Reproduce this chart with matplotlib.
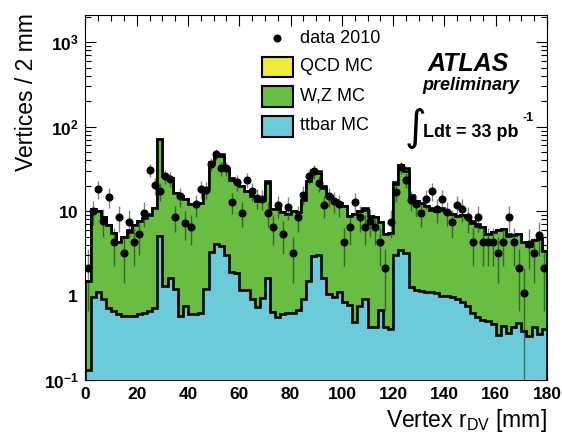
import numpy as np
import matplotlib
matplotlib.use("Agg")
import matplotlib.pyplot as plt
from matplotlib.patches import Rectangle
from matplotlib.ticker import MultipleLocator, LogLocator, FixedLocator, FixedFormatter, NullFormatter

plt.rcParams['font.family'] = ['Liberation Sans', 'DejaVu Sans']
plt.rcParams['mathtext.fontset'] = 'custom'
plt.rcParams['mathtext.rm'] = 'Liberation Sans'
plt.rcParams['mathtext.bf'] = 'Liberation Sans:bold'

# ------------------------------------------
# data: 2 mm bins from 0 to 180 mm
# ------------------------------------------
bin_edges = np.arange(0, 182, 2)

ttbar_mc = [
    0.13, 0.97, 1.1, 0.9, 0.72, 0.65, 0.6, 0.58, 0.58, 0.58,
    0.6, 0.62, 0.66, 0.72, 5.1, 1.3, 1.6, 1.2, 0.58, 0.76,
    0.6, 0.6, 0.62, 1.2, 3.3, 4.1, 3.9, 3.0, 1.9, 1.85,
    1.17, 1.15, 0.9, 0.74, 0.94, 1.6, 0.64, 0.56, 0.6, 0.62,
    0.62, 0.68, 0.9, 1.5, 2.9, 3.0, 1.6, 1.05, 0.97, 1.1,
    0.85, 0.78, 0.48, 0.75, 0.92, 0.42, 0.42, 0.68, 0.42, 0.4,
    3.0, 3.45, 3.2, 1.25, 1.15, 1.12, 1.1, 1.1, 1.06, 1.0,
    0.98, 0.95, 0.9, 0.85, 0.75, 0.62, 0.56, 0.52, 0.5, 0.46,
    0.34, 0.44, 0.36, 0.42, 0.47, 0.38, 0.33, 0.42, 0.35, 0.4,
]

# top of the full MC stack (ttbar + W,Z + QCD)
mc_total = [
    1.5, 10.5, 10, 8.5, 6.8, 5.5, 4.3, 5.0, 5.9, 6.8,
    7.6, 8.3, 9.3, 11, 72, 26, 24.6, 16.5, 15.2, 14,
    12, 12, 12.6, 18.8, 38, 48, 47, 32, 24.6, 22.8,
    20, 17.2, 15, 13, 13.5, 22.8, 10.5, 10.5, 9.8, 9.3,
    10, 9.8, 13.6, 22.8, 31, 30, 20, 15, 13.6, 12.6,
    11.6, 8.8, 9.3, 10, 10.9, 8.8, 8.4, 7.4, 5.4, 5.5,
    22, 35, 32, 15.5, 13.2, 12.6, 11.6, 11, 10.5, 10.9,
    9.8, 9.3, 8.8, 8.9, 8.4, 7.7, 7.1, 6.5, 5.4, 5.6,
    5.9, 6.1, 5.4, 5.2, 5.4, 4.3, 4.1, 4.5, 4.7, 3.4,
]

qcd_mc = [
    0, 0, 0, 0, 0, 0, 0, 0, 0.3, 0,
    0, 0, 0.4, 0, 0, 0, 0, 0, 0, 0,
    0, 0, 0, 0, 2.0, 2.0, 2.0, 1.5, 1.2, 0,
    0, 0, 0, 0, 0, 1.0, 0, 0, 0, 0,
    0, 0, 0, 0, 0, 1.5, 1.0, 0, 0, 0,
    0, 0, 0, 0, 0.6, 0, 0, 0, 0, 0,
    1.2, 0, 1.8, 0.8, 0, 0, 0, 0.6, 0.6, 0.6,
    0, 0, 0, 0, 0, 0.4, 0.4, 0, 0, 0,
    0, 0, 0.3, 0, 0, 0, 0.25, 0, 0, 0,
]

data_2010 = [
    2.1, 10, 18.3, 7.7, 14.8, 4.3, 8.6, 3.2, 7.5, 4.3,
    5.3, 9.6, 30.9, 20.2, 17.2, 25.8, 24, 8.6, 15, 7.3,
    6.5, 12, 18.3, 18, 36, 47, 32, 32, 12.9, 22,
    9.6, 23.6, 17.2, 14.4, 14, 9.6, 6.5, 11.8, 5.4, 11.2,
    3.2, 8.6, 15.7, 25.8, 29.5, 21.5, 11.8, 15, 13, 12,
    4.3, 6.5, 12.9, 8.6, 6.5, 7.7, 6.5, 4.3, 2.1, 7.5,
    17, 32.9, 23.6, 13.6, 12, 9.6, 14, 17.2, 10.5, 14,
    9.8, 7.5, 11.8, 10.7, 8.4, 4.3, 8.6, 4.3, 4.3, 4.3,
    3.2, 4.3, 8.6, 4.3, 2.1, 1.08, 4.1, 3.2, 5.2, 2.1,
]

COL_TT = '#6ccbd9'
COL_WZ = '#68bd42'
COL_QCD = '#f0ea3a'

# ------------------------------------------
# figure
# ------------------------------------------
fig = plt.figure(figsize=(5.62, 4.33), dpi=100)
ax = fig.add_axes([0.1521, 0.1224, 0.8212, 0.8430])

tt = np.array(ttbar_mc)
tot = np.array(mc_total)
qcd = np.array(qcd_mc)
below_qcd = tot - qcd

# stack drawn back to front, like THStack
ax.stairs(tot, bin_edges, baseline=1e-3, fill=True, facecolor=COL_QCD,
          edgecolor='black', linewidth=1.9, zorder=2)
ax.stairs(below_qcd, bin_edges, baseline=1e-3, fill=True, facecolor=COL_WZ,
          edgecolor='black', linewidth=1.9, zorder=3)
ax.stairs(tt, bin_edges, baseline=1e-3, fill=True, facecolor=COL_TT,
          edgecolor='black', linewidth=1.9, zorder=4)

# data with poisson-like errors
centers = 0.5 * (bin_edges[:-1] + bin_edges[1:])
d = np.array(data_2010)
err = np.sqrt(d)
lo = np.minimum(err, d - 1e-3)
ax.errorbar(centers, d, yerr=[lo, err], fmt='o', color='black', ms=4.8,
            ecolor=(0.05, 0.15, 0.05, 0.55), elinewidth=1.0, capsize=0, zorder=6)

# axes
ax.set_xlim(0, 180)
ax.set_yscale('log')
ax.set_ylim(0.1, 2100)

ax.xaxis.set_major_locator(MultipleLocator(20))
ax.xaxis.set_minor_locator(MultipleLocator(5))
ax.yaxis.set_major_locator(FixedLocator([0.1, 1, 10, 100, 1000]))
ax.yaxis.set_major_formatter(FixedFormatter([r'$\mathbf{10^{-1}}$', r'$\mathbf{1}$',
                                             r'$\mathbf{10}$', r'$\mathbf{10^{2}}$',
                                             r'$\mathbf{10^{3}}$']))
ax.yaxis.set_minor_locator(LogLocator(base=10, subs=np.arange(2, 10)))
ax.yaxis.set_minor_formatter(NullFormatter())

ax.tick_params(which='both', direction='in', top=True, right=True, width=0.8)
ax.tick_params(which='major', length=8, labelsize=12.5)
ax.tick_params(which='minor', length=4.5)
ax.tick_params(axis='x', pad=5)
ax.tick_params(axis='y', pad=5)
plt.setp(ax.get_xticklabels(), fontweight='bold')
for sp in ax.spines.values():
    sp.set_linewidth(0.8)
ax.set_axisbelow(False)

# axis titles, ROOT style at the ends
ax.text(1.0, -0.128, r'Vertex r$_{\mathrm{DV}}$ [mm]', transform=ax.transAxes,
        ha='right', va='baseline', fontsize=16.5)
ax.text(-0.114, 1.005, 'Vertices / 2 mm', transform=ax.transAxes, rotation=90,
        rotation_mode='anchor', ha='right', va='baseline', fontsize=16.5)

# legend drawn by hand
ax.plot([0.414], [0.936], 'o', color='black', ms=4.8, transform=ax.transAxes,
        clip_on=False, zorder=7)
for y0, col in [(0.829, COL_QCD), (0.749, COL_WZ), (0.667, COL_TT)]:
    ax.add_patch(Rectangle((0.382, y0), 0.0672, 0.0562, transform=ax.transAxes,
                           facecolor=col, edgecolor='black', linewidth=1.5, zorder=7))
for y, lab in [(0.936, 'data 2010'), (0.858, 'QCD MC'), (0.777, 'W,Z MC'), (0.696, 'ttbar MC')]:
    ax.text(0.465, y, lab, transform=ax.transAxes, ha='left', va='center', fontsize=13)

# ATLAS label
ax.text(0.829, 0.866, 'ATLAS', transform=ax.transAxes, ha='center', va='center',
        fontsize=18, fontweight='bold', fontstyle='italic')
ax.text(0.835, 0.807, 'preliminary', transform=ax.transAxes, ha='center', va='center',
        fontsize=13, fontweight='bold', fontstyle='italic')
ax.text(0.714, 0.690, '\u222b', transform=ax.transAxes, ha='center', va='center',
        fontsize=30, family='DejaVu Sans')
ax.text(0.731, 0.679, 'Ldt = 33 pb', transform=ax.transAxes, ha='left', va='center',
        fontsize=13, fontweight='bold')
ax.text(0.946, 0.718, '-1', transform=ax.transAxes, ha='left', va='center',
        fontsize=9, fontweight='bold')

fig.savefig('out.png', dpi=100)
